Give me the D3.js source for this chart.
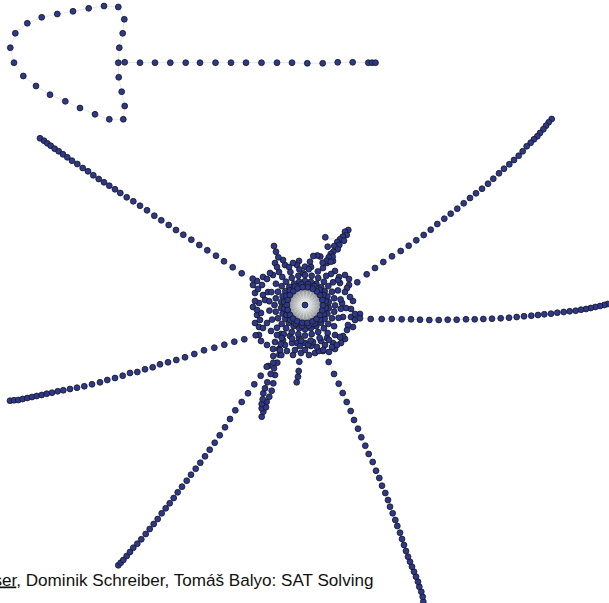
<!DOCTYPE html>
<html>
<head>
<meta charset="utf-8">
<script src="https://cdn.jsdelivr.net/npm/d3@7"></script>
<style>
  html, body { margin: 0; padding: 0; background: #ffffff; }
  svg { display: block; }
</style>
</head>
<body>
<svg id="chart" width="609" height="603"></svg>
<script>
// Force-directed layout of a SAT formula's variable graph.
// Positions are layout units, the central hub variable sits at (0, 0).

const hubNode = [0, 0];

// separate component: a closed loop with a straight tail
const loopNodes = [
  [-186.7,-242.3],[-185.7,-257.3],[-182.3,-271.7],[-180.7,-285.7],[-186.7,-298],
  [-201,-299],[-216.3,-296.7],[-232,-293.7],[-247.7,-291],[-263.3,-287.7],
  [-277.7,-281.7],[-289.7,-271.7],[-294.7,-257.3],[-291,-242.3],[-281.7,-229],
  [-269,-219],[-255,-210.3],[-239.7,-203.7],[-225,-197],[-210,-190.7],
  [-195.7,-185.7],[-181.7,-185.7],[-180.3,-199],[-183.3,-213.3],[-186.3,-227.7]
];
const tailNodes = [
  [-180.3,-242.7],[-165,-242.3],[-150,-242.3],[-134.7,-242.3],[-119.3,-242.3],
  [-105,-242.3],[-89.5,-242.3],[-74,-242.3],[-59,-242.3],[-43.5,-242.3],
  [-28,-242.3],[-13,-242.3],[2.3,-241.7],[17.7,-241.7],[32.7,-242.7],
  [47.7,-242.7],[63.3,-242.3],[67,-242.3],[70.5,-242.3]
];

// long chains hanging off the hub (outer end first)
const chainNW = [
  [-265,-166.7],[-261,-164.3],[-257.7,-161.7],[-254.3,-159.3],[-250.3,-156.3],
  [-246.3,-153.7],[-242,-150.7],[-237.7,-147.7],[-233,-144.3],[-227.7,-141],
  [-222.3,-137],[-217,-133.7],[-211.7,-129.7],[-206.3,-126],[-201,-122.7],
  [-195.7,-119.3],[-190,-115.7],[-184.7,-112],[-178.3,-107.7],[-171.7,-103.7],
  [-165,-99.3],[-158,-94.7],[-150.7,-89.3],[-143.7,-84.7],[-136.3,-80],
  [-129,-75],[-121.7,-70.3],[-113.7,-65.3],[-105.7,-60],[-97.7,-54.7],
  [-89,-49.3],[-81,-43.7],[-72.3,-37.7],[-63.3,-31.7],[-52.3,-26.3]
];
const chainNE = [
  [246.7,-186],[243.7,-182.7],[241,-179.3],[238.3,-175.7],[235,-172],
  [232.3,-168.7],[229,-165.7],[225.7,-162.3],[221.7,-158.7],[217.7,-153.7],
  [213.7,-149.3],[209,-145],[204.3,-140.7],[199,-136.3],[194,-131.7],
  [188.3,-126.3],[183,-121.3],[177,-116.3],[171,-111.7],[165,-107],
  [158.7,-101.7],[152.3,-96.3],[145.7,-91.3],[139.3,-86.3],[132.3,-81],
  [125.7,-75.3],[118.7,-70],[111.3,-64.7],[103.7,-59.3],[95.7,-54],
  [87,-48.7],[78.3,-43],[70,-37],[61.7,-30.7],[52.3,-22.7]
];
const chainE = [
  [302.7,-1],[299.3,0],[295,1],[290.3,2],[285.7,3],[281,4],[276,4.7],
  [270.7,5.7],[264.7,6.3],[258.7,7],[252.3,7.7],[246,8.7],[239.3,9.3],
  [233,10],[226.3,10.7],[219,11.3],[211.7,12],[204,12.7],[195.7,13.3],
  [187,13.7],[178.3,14],[169.7,14.3],[161,14.3],[151.7,14.7],[142.7,14.7],
  [133.7,15],[124.3,15],[115,14.7],[106,14.3],[96.7,14.3],[86.7,14],
  [76.7,14],[65.7,14],[55,13.3],[50,9]
];
const chainW = [
  [-295,95.7],[-291,95.3],[-286.7,95],[-282.3,94],[-277.7,93],[-273,92],
  [-268.3,91],[-263.3,90],[-258.3,88.7],[-253,87.7],[-247.3,86.3],[-241.7,85.3],
  [-235,84],[-228,82.7],[-220.7,81.3],[-213,79.3],[-205,77.3],[-197.7,75],
  [-190,73],[-182.3,70.7],[-175,68],[-167.7,67],[-160,64.3],[-152.3,62.3],
  [-145,59.3],[-137,57.3],[-128.7,55],[-120,52.3],[-110.7,49],[-101,45.3],
  [-90.7,42.7],[-80.7,39.7],[-70.7,36.7],[-60.7,34.3],[-49.3,30.3]
];
const chainSW = [
  [-186.7,260.3],[-184.3,257.7],[-181.7,255],[-178.3,251],[-175,247],
  [-171.7,242.7],[-167.7,238.7],[-163.7,234.3],[-159.3,229],[-155.3,224],
  [-151.3,219],[-147.3,214],[-143.3,208.3],[-139.3,203.3],[-135.3,198.3],
  [-131.3,193],[-127.3,187.3],[-123,181.7],[-118.3,175.7],[-114,169.7],
  [-109.3,163.7],[-104.7,157.7],[-100,151.3],[-95.3,144.7],[-90.3,137.7],
  [-85.3,130.3],[-80,122.3],[-75,114],[-69.7,105.3],[-63.3,97],
  [-57,88.3],[-50.7,79.3],[-44.3,70.7],[-38.3,61.7],[-31.7,51]
];
const chainS = [
  [118.3,296.7],[117.7,291.7],[116.3,286.7],[114.3,281.7],[113,276.7],
  [111,271.7],[109,266.7],[107,261.7],[105,256.7],[103,251.7],[101,246],
  [99,240],[97,234],[95,227.7],[92.3,221],[90.3,215],[87.7,208.3],
  [85,201.7],[83,195],[80.3,188],[77,180.7],[74.3,173],[71,165.7],
  [67.7,157],[63.7,149],[60.3,140.7],[56.3,132.3],[53,123.7],[49,115],
  [45.7,106],[41.7,97],[37.7,88],[33.7,78.7],[29,69],[23.7,57],[18.3,45]
];

// short bundles near the hub (outer end first)
const bundleSouth = [
  [-43.3,111.7],[-41.7,106.7],[-43.3,103.3],[-39,102.3],[-43.3,99],[-38.3,96.7],
  [-42.3,94.3],[-35.7,91.7],[-41.7,88.3],[-33.3,85.7],[-40,83.3],[-31.7,78.3],
  [-37.7,77.3],[-30,70],[-34.3,69],[-36.7,61],[-31,63.3],[-27.7,57.7],
  [-31.7,57.7],[-25.7,49.7],[-23.7,50],[-25,45],[-24.3,39],[-23.3,33]
];
const bundleSouthSmall = [
  [-8.3,77.3],[-7,71.7],[-6.3,66],[-5.7,56.7]
];
const bundleNorth = [
  [43.3,-75],[40,-73.3],[41.7,-70],[37.7,-68.3],[35,-65.7],[39,-64.3],
  [20.3,-67.7],[32.3,-63],[34.3,-60],[22.7,-58.3],[29.3,-59],[32.7,-55.7],
  [28.3,-53.3],[25.7,-51],[27.7,-48.3],[23.7,-47.7],[21.7,-44.3],[25.7,-43.3],
  [17.7,-42.3]
];
const bundleNorthWest = [
  [-31,-59],[-29,-53.3],[-26.7,-47.7]
];

// dense shell of variables around the hub
const shellNodes = [
  // innermost ring
  [18,0.4],[17.3,5.2],[15.1,9.8],[11.6,13.8],[7.6,16.3],[2.5,17.9],[-2.5,17.8],
  [-7.8,16.2],[-11.8,13.6],[-15,9.9],[-17.3,5],[-18.2,0.2],[-17.3,-5],[-15.1,-9.8],
  [-11.8,-13.6],[-7.6,-16.5],[-2.5,-17.8],[2.6,-17.7],[7.6,-16.3],[11.8,-13.6],
  [15.1,-9.8],[17.4,-5],
  // second ring
  [20.8,2.9],[18.9,9.2],[15.1,14.6],[9.9,18.5],[3.6,20.7],[-2.9,20.8],[-9.2,18.9],
  [-14.6,15.1],[-18.5,9.9],[-20.7,3.6],[-20.8,-2.9],[-18.9,-9.2],[-15.1,-14.6],
  [-9.9,-18.5],[-3.6,-20.7],[2.9,-20.8],[9.2,-18.9],[14.6,-15.1],[18.5,-9.9],[20.7,-3.6],
  // third ring
  [23.8,2.9],[22.4,8.6],[19.7,13.8],[16.1,17.8],[11.3,21.2],[5.8,23.3],[0,24.2],
  [-5.8,23.3],[-11.3,21.2],[-16.1,17.8],[-19.7,13.8],[-22.4,8.6],[-23.8,2.9],
  [-23.8,-2.9],[-22.4,-8.6],[-19.7,-13.8],[-15.7,-18.1],[-10.9,-21.4],[-5.8,-23.3],
  [0,-24],[5.8,-23.3],[11.3,-21.2],[16.1,-17.8],[19.7,-13.8],[22.4,-8.6],[23.8,-2.9],
  // fourth ring
  [30,0.5],[29.2,6.7],[27,13.2],[23.3,18.9],[18.9,23.3],[13.2,27],[6.7,29.2],
  [0,30.5],[-6.7,29.2],[-13.2,27],[-18.9,23.3],[-23.3,18.9],[-27,13.2],[-29.2,6.7],
  [-30.5,0],[-29.2,-6.7],[-27,-13.2],[-23.3,-18.9],[-18.9,-23.3],[-13.2,-27],
  [-6.7,-29.2],[0,-30],[6.7,-29.2],[13.2,-27],[18.9,-23.3],[23.3,-18.9],[27,-13.2],[29.2,-6.7],
  // fifth ring
  [35.8,3.8],[33.6,12.9],[29.1,21.2],[22.7,28],[14.6,32.9],[5.6,35.6],[-3.8,35.8],
  [-12.9,33.6],[-21.2,29.1],[-28,22.7],[-32.9,14.6],[-35.6,5.6],[-35.8,-3.8],
  [-33.6,-12.9],[-29.1,-21.2],[-22.7,-28],[-14.6,-32.9],[-5.6,-35.6],[3.8,-35.8],
  [12.9,-33.6],[21.2,-29.1],[28,-22.7],[32.9,-14.6],[35.6,-5.6],
  // loose outer shell
  [-48,5],[-45,15],[-42,23],[-37,-13],[-40,-5],[-43,-20],[-35,-32],[-22,-45],
  [-12,-42],[-1.7,-31.7],[0,-38.3],[5,-43.3],[8.3,-49],[12.3,-49.5],[15.3,-48.5],
  [-28,-38],[-42,-10],[-46,30],
  [45,-8],[40,-13],[42,-17],[37,-2],[33,-25],[35,-22],[55,9],[50,15],[43,20],
  [42,25],[35,32],[32,40],[27,42],[30,30],[20,40],[12,42],[3,40],[-5,41],
  [-13,38],[-22,35],[-28,30],[-34,26],[-38,18],
  [-24,29],[-15,31],[-6,33],[-8,38],[0,38],[8,37],[16,36],[24,35],[38,12],[41,3],
  [-30,37],[-20,40],[-10,45],[0,45],[6,41],[14,46],[22,33],[28,38],[38,31],
  [-38,-26],[-32,-30],[-26,-33],[-42,-28],[-47,-16],[-50,-4],[-44,8],
  [-16,-38],[-8,-40],[6,-38],[18,-37],[26,-31],[30,-34],[34,-28],[40,-30],
  [-50,-12],[-52,-20],[-48,-24],[-46,22],[-50,18],[-44,36],[-38,40],[-48,10],
  [-52,2],[-46,-2],
  [-26,44],[-18,46],[-12,50],[-4,48],[4,50],[10,48],[18,46],[24,47],[30,44],
  [36,38],[-32,44],
  [-30,-42],[-20,-40],[-6,-44],[22,-42],[28,-44],
  [44,-20],[48,-4],[46,4],[46,12],[40,34],[48,22],[44,-26]
];

const xScale = d3.scaleLinear().domain([-305, 304]).range([0, 609]);
const yScale = d3.scaleLinear().domain([-305, 298]).range([0, 603]);

const svg = d3.select("#chart");

// edges: consecutive nodes along chains, chain inner ends and shell to the hub
const edges = [];
function chainEdges(chain, toHub) {
  for (let i = 1; i < chain.length; i++) edges.push([chain[i - 1], chain[i]]);
  if (toHub) edges.push([chain[chain.length - 1], hubNode]);
}
[chainNW, chainNE, chainE, chainW, chainSW, chainS,
 bundleSouth, bundleSouthSmall, bundleNorth, bundleNorthWest].forEach(c => chainEdges(c, true));
chainEdges(loopNodes, false);
edges.push([loopNodes[loopNodes.length - 1], loopNodes[0]]);
chainEdges(tailNodes, false);
edges.push([loopNodes[0], tailNodes[0]]);

svg.append("g")
  .attr("stroke", "#e4e4e4")
  .attr("stroke-width", 0.9)
  .selectAll("line")
  .data(edges)
  .join("line")
  .attr("x1", d => xScale(d[0][0]))
  .attr("y1", d => yScale(d[0][1]))
  .attr("x2", d => xScale(d[1][0]))
  .attr("y2", d => yScale(d[1][1]));

// hub fan: the many hub edges merge into a shaded disc
const defs = svg.append("defs");
const grad = defs.append("radialGradient").attr("id", "hubFan");
grad.append("stop").attr("offset", "0%").attr("stop-color", "#f0f1f1");
grad.append("stop").attr("offset", "40%").attr("stop-color", "#c9cdce");
grad.append("stop").attr("offset", "80%").attr("stop-color", "#9a9fa2");
grad.append("stop").attr("offset", "100%").attr("stop-color", "#737779");

svg.append("circle")
  .attr("cx", xScale(hubNode[0]))
  .attr("cy", yScale(hubNode[1]))
  .attr("r", 17)
  .attr("fill", "url(#hubFan)");

svg.append("g")
  .attr("stroke", "#ffffff")
  .attr("stroke-opacity", 0.35)
  .attr("stroke-width", 0.6)
  .selectAll("line")
  .data(shellNodes.filter((d, i) => i < 42))
  .join("line")
  .attr("x1", xScale(hubNode[0]))
  .attr("y1", yScale(hubNode[1]))
  .attr("x2", d => xScale(d[0] * 0.85))
  .attr("y2", d => yScale(d[1] * 0.85));

// variable nodes
const allNodes = [].concat(
  shellNodes.slice().reverse(),
  bundleSouth, bundleSouthSmall, bundleNorth, bundleNorthWest,
  chainNW, chainNE, chainE, chainW, chainSW, chainS,
  loopNodes, tailNodes, [hubNode]
);

svg.append("g")
  .attr("fill", "#2d388b")
  .attr("stroke", "#141414")
  .attr("stroke-width", 0.75)
  .selectAll("circle")
  .data(allNodes)
  .join("circle")
  .attr("cx", d => xScale(d[0]))
  .attr("cy", d => yScale(d[1]))
  .attr("r", 2.95);

// footer line of the slide
const footer = svg.append("text")
  .attr("x", 373.5)
  .attr("y", 585.5)
  .attr("text-anchor", "end")
  .attr("font-family", "'Liberation Sans', Arial, Helvetica, sans-serif")
  .attr("font-size", 17.1)
  .attr("fill", "#111");
footer.append("tspan").text("Markus ");
footer.append("tspan").attr("text-decoration", "underline").text("Iser");
footer.append("tspan").text(", Dominik Schreiber, Tomáš Balyo: SAT Solving");
</script>
</body>
</html>
